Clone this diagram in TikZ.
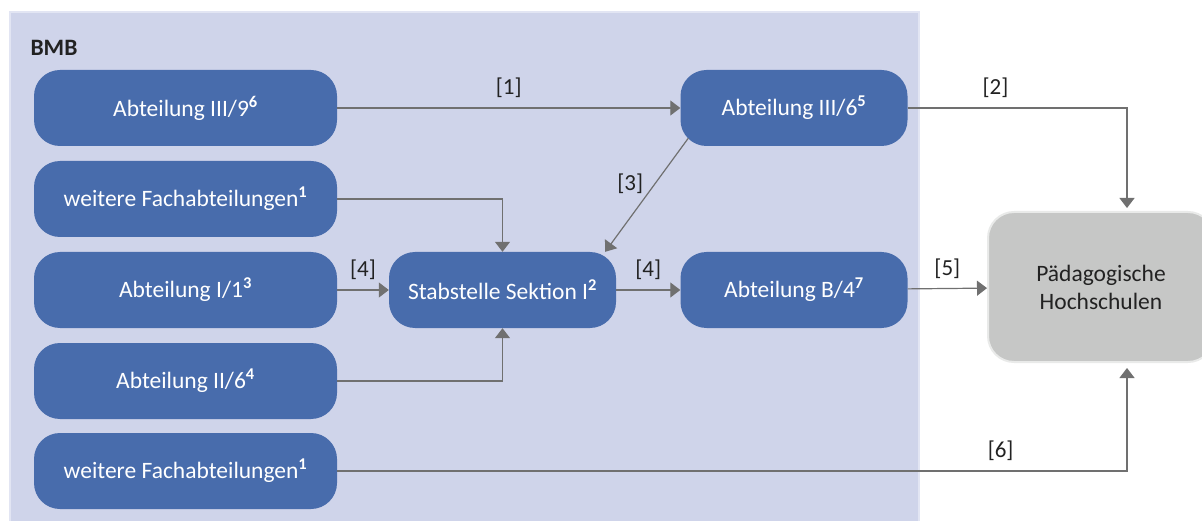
\documentclass[tikz,border=0pt]{standalone}
\usepackage{fontspec}
\setmainfont{Carlito}
\usepackage{xcolor}
\definecolor{bmbback}{RGB}{207,212,234}
\definecolor{bmbedge}{RGB}{226,229,243}
\definecolor{deptblue}{RGB}{72,108,172}
\definecolor{phgray}{RGB}{198,199,198}
\definecolor{phedge}{RGB}{233,234,233}
\definecolor{linegray}{RGB}{112,112,112}
\definecolor{labelblack}{RGB}{34,34,34}
\usepackage{tikz}
\usetikzlibrary{arrows.meta}
\newcommand{\fn}[1]{\textsuperscript{\textbf{#1}}}
\tikzset{
    common/.style={rectangle, rounded corners=26pt, minimum height=76pt, font=\fontsize{23.5}{28}\selectfont},
    dept/.style={common, fill=deptblue, text=white, minimum width=303pt},
    unit/.style={dept, minimum width=227pt},
    target/.style={common, fill=phgray, draw=phedge, line width=2pt, minimum width=226pt, minimum height=150pt, align=center, text=labelblack},
    flow/.style={draw=linegray, line width=1.2pt, -{Triangle[width=15pt, length=10pt]}},
    tag/.style={font=\fontsize{23}{27}\selectfont, text=labelblack}
}

\begin{document}
\begin{tikzpicture}[x=1pt, y=-1pt]
    \useasboundingbox (0,0) rectangle (1202,521);
    \draw[bmbedge, fill=bmbback, line width=2pt] (10,12) rectangle (919,540);
    \node[anchor=west, font=\fontsize{23.5}{28}\selectfont\bfseries, text=labelblack] (bmb) at (27,48) {BMB};

    \node[dept] (abt-iii-9) at (185.5,108) {Abteilung III/9\fn{6}};
    \node[dept] (fach-1) at (185.5,199) {weitere Fachabteilungen\fn{1}};
    \node[dept] (abt-i-1) at (185.5,290) {Abteilung I/1\fn{3}};
    \node[dept] (abt-ii-6) at (185.5,381) {Abteilung II/6\fn{4}};
    \node[dept] (fach-2) at (185.5,471) {weitere Fachabteilungen\fn{1}};

    \node[unit] (stab) at (502.5,290) {Stabstelle Sektion I\fn{2}};
    \node[unit] (abt-iii-6) at (794,108) {Abteilung III/6\fn{5}};
    \node[unit] (abt-b-4) at (794,290) {Abteilung B/4\fn{7}};

    \node[target] (ph) at (1101,287) {Pädagogische\\Hochschulen};

    \draw[flow] (abt-iii-9) -- (abt-iii-6) node[midway, above=6pt, tag] {[1]};
    \draw[flow, shorten >=3pt] (abt-iii-6.east) -| ([xshift=26pt]ph.north) node[pos=0.2, above=6pt, tag] {[2]};
    \draw[flow] ([xshift=8pt, yshift=8pt]abt-iii-6.south west) -- ([xshift=-11pt]stab.north east) node[pos=0.4, left=8pt, tag] {[3]};
    \draw[flow] (fach-1.east) -| (stab.north);
    \draw[flow] (abt-i-1) -- (stab) node[midway, above=6pt, tag] {[4]};
    \draw[flow] (stab) -- (abt-b-4) node[midway, above=6pt, tag] {[4]};
    \draw[flow] (abt-ii-6.east) -| (stab.south);
    \draw[flow] (abt-b-4) -- (ph) node[midway, above=6pt, tag] {[5]};
    \draw[flow, shorten >=5pt] (fach-2.east) -| ([xshift=26pt]ph.south) node[pos=0.42, above=6pt, tag] {[6]};
\end{tikzpicture}
\end{document}
